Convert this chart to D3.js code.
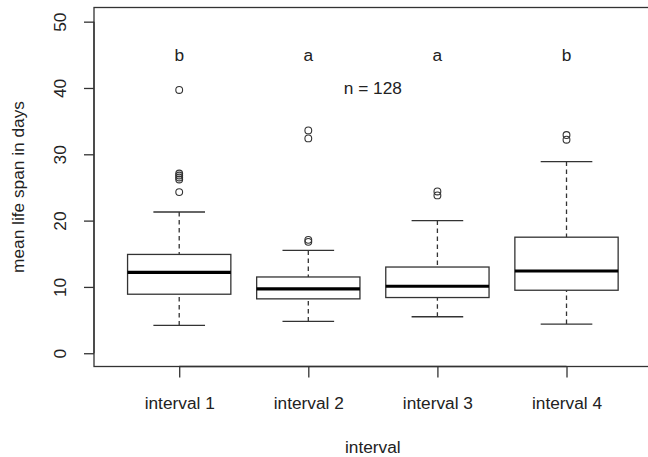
<!DOCTYPE html>
<html lang="en">
<head>
  <meta charset="utf-8">
  <title>Mean life span boxplot</title>
  <script src="https://cdn.jsdelivr.net/npm/d3@7"></script>
  <style>
    body { margin: 0; background: #fff; }
    text { font-family: "Liberation Sans", Arial, sans-serif; fill: #222; }
  </style>
</head>
<body>
  <svg class="chart"></svg>
<script>
  // data
  var categories = ["interval 1", "interval 2", "interval 3", "interval 4"];
  var whiskerLow = [4.2, 4.8, 5.5, 4.4];
  var q1 = [8.9, 8.2, 8.4, 9.5];
  var median = [12.2, 9.7, 10.1, 12.4];
  var q3 = [14.9, 11.5, 13.0, 17.5];
  var whiskerHigh = [21.3, 15.5, 20.0, 28.9];
  var outliers = [
    [24.3, 26.2, 26.5, 26.8, 27.1, 39.7],
    [16.8, 17.1, 32.4, 33.6],
    [23.8, 24.4],
    [32.2, 32.9]
  ];
  var groupLetters = ["b", "a", "a", "b"];
  var yTicks = [0, 10, 20, 30, 40, 50];
  var nLabel = "n = 128";

  var W = 648, H = 457;
  var plotLeft = 94, plotTop = 7.5, plotBottom = 366.5;
  var fs = 17.3;

  var svg = d3.select(".chart").attr("width", W).attr("height", H);

  // x: positions 1..4, R style limits 0.34..4.66
  var x = d3.scaleLinear().domain([0.34, 4.66]).range([plotLeft, plotLeft + 4.32 * 129.1]);
  var y = d3.scaleLinear().domain([-2, 52]).range([plotBottom, 8.4]);
  var bw = 0.8 * (x(2) - x(1));

  // plot frame
  svg.append("rect")
    .attr("x", plotLeft).attr("y", plotTop)
    .attr("width", x(4.66) - plotLeft).attr("height", plotBottom - plotTop)
    .attr("fill", "none").attr("stroke", "#333").attr("stroke-width", 1.3);

  // y axis
  var yAxis = d3.axisLeft(y).tickValues(yTicks).tickSize(10).tickSizeOuter(0);
  var gy = svg.append("g").attr("transform", "translate(" + plotLeft + ",0)").call(yAxis);
  gy.select(".domain").attr("d", "M0," + y(0) + "V" + y(50)).attr("stroke", "#333").attr("stroke-width", 1.3);
  gy.selectAll(".tick line").attr("stroke", "#333").attr("stroke-width", 1.3);
  gy.selectAll(".tick text")
    .attr("x", 0).attr("y", 0).attr("dy", "0.35em")
    .attr("transform", "translate(-34,0) rotate(-90)")
    .attr("text-anchor", "middle")
    .style("font-size", fs + "px").style("font-family", null);

  // x axis
  var xAxis = d3.axisBottom(x).tickValues([1, 2, 3, 4]).tickSize(11).tickSizeOuter(0)
    .tickFormat(function(d) { return categories[d - 1]; });
  var gx = svg.append("g").attr("transform", "translate(0," + plotBottom + ")").call(xAxis);
  gx.select(".domain").attr("d", "M" + x(1) + ",0H" + x(4)).attr("stroke", "#333").attr("stroke-width", 1.3);
  gx.selectAll(".tick line").attr("stroke", "#333").attr("stroke-width", 1.3);
  gx.selectAll(".tick text").attr("y", 36).attr("dy", "0.35em")
    .style("font-size", fs + "px").style("font-family", null);

  // axis titles
  svg.append("text")
    .attr("transform", "translate(18," + ((plotTop + plotBottom) / 2) + ") rotate(-90)")
    .attr("text-anchor", "middle").attr("dy", "0.35em")
    .style("font-size", fs + "px")
    .text("mean life span in days");
  svg.append("text")
    .attr("x", (x(2) + x(3)) / 2).attr("y", 447).attr("dy", "0.35em")
    .attr("text-anchor", "middle")
    .style("font-size", fs + "px")
    .text("interval");

  // boxes
  var g = svg.selectAll("g.box").data(categories).enter().append("g").attr("class", "box");

  g.append("line") // lower whisker
    .attr("x1", function(d, i) { return x(i + 1); }).attr("x2", function(d, i) { return x(i + 1); })
    .attr("y1", function(d, i) { return y(whiskerLow[i]); }).attr("y2", function(d, i) { return y(q1[i]); })
    .attr("stroke", "#333").attr("stroke-width", 1.3).attr("stroke-dasharray", "4.5,3.5");
  g.append("line") // upper whisker
    .attr("x1", function(d, i) { return x(i + 1); }).attr("x2", function(d, i) { return x(i + 1); })
    .attr("y1", function(d, i) { return y(whiskerHigh[i]); }).attr("y2", function(d, i) { return y(q3[i]); })
    .attr("stroke", "#333").attr("stroke-width", 1.3).attr("stroke-dasharray", "4.5,3.5");

  [whiskerLow, whiskerHigh].forEach(function(arr) {
    g.append("line")
      .attr("x1", function(d, i) { return x(i + 1) - bw / 4; }).attr("x2", function(d, i) { return x(i + 1) + bw / 4; })
      .attr("y1", function(d, i) { return y(arr[i]); }).attr("y2", function(d, i) { return y(arr[i]); })
      .attr("stroke", "#333").attr("stroke-width", 1.3);
  });

  g.append("rect")
    .attr("x", function(d, i) { return x(i + 1) - bw / 2; })
    .attr("y", function(d, i) { return y(q3[i]); })
    .attr("width", bw)
    .attr("height", function(d, i) { return y(q1[i]) - y(q3[i]); })
    .attr("fill", "#fff").attr("stroke", "#333").attr("stroke-width", 1.3);

  g.append("line") // median
    .attr("x1", function(d, i) { return x(i + 1) - bw / 2; }).attr("x2", function(d, i) { return x(i + 1) + bw / 2; })
    .attr("y1", function(d, i) { return y(median[i]); }).attr("y2", function(d, i) { return y(median[i]); })
    .attr("stroke", "#000").attr("stroke-width", 3.2);

  g.each(function(d, i) {
    d3.select(this).selectAll("circle").data(outliers[i]).enter().append("circle")
      .attr("cx", x(i + 1)).attr("cy", function(v) { return y(v); })
      .attr("r", 3.4).attr("fill", "none").attr("stroke", "#333").attr("stroke-width", 1.1);
  });

  // group letters and n label
  g.append("text")
    .attr("x", function(d, i) { return x(i + 1); }).attr("y", y(45)).attr("dy", "0.35em")
    .attr("text-anchor", "middle").style("font-size", fs + "px")
    .text(function(d, i) { return groupLetters[i]; });
  svg.append("text")
    .attr("x", x(2.5)).attr("y", y(40)).attr("dy", "0.35em")
    .attr("text-anchor", "middle").style("font-size", fs + "px")
    .text(nLabel);
</script>
</body>
</html>
